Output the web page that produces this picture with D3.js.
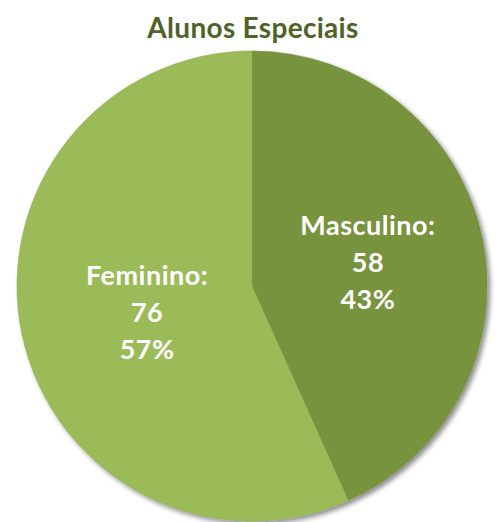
<!DOCTYPE html>
<html>
<head>
<meta charset="utf-8">
<script src="https://cdn.jsdelivr.net/npm/d3@7"></script>
<style>
  html, body { margin: 0; padding: 0; background: #fff; }
</style>
</head>
<body>
<div id="chart"></div>
<script>
const categories = ["Masculino", "Feminino"];
const values = [58, 76];
const colors = ["#77933c", "#9bbb59"];
const title = "Alunos Especiais";

const width = 498, height = 522;
const cx = 252, cy = 286, radius = 235;
const font = "Lato, 'Open Sans', sans-serif";

const data = categories.map((c, i) => ({cat: c, val: values[i]}));
const total = d3.sum(values);

const svg = d3.select('#chart').append('svg')
  .attr('width', width)
  .attr('height', height);

// soft shadow under the pie, like the spreadsheet chart
const defs = svg.append('defs');
const f = defs.append('filter').attr('id', 'shadow')
  .attr('x', '-10%').attr('y', '-10%').attr('width', '120%').attr('height', '120%');
f.append('feGaussianBlur').attr('in', 'SourceAlpha').attr('stdDeviation', 2.5);
f.append('feOffset').attr('dx', 3).attr('dy', 3).attr('result', 'off');
f.append('feComponentTransfer').append('feFuncA').attr('type', 'linear').attr('slope', 0.45);
const m = f.append('feMerge');
m.append('feMergeNode');
m.append('feMergeNode').attr('in', 'SourceGraphic');

svg.append('text')
  .attr('x', cx + 1)
  .attr('y', 38)
  .attr('text-anchor', 'middle')
  .style('font-family', font)
  .style('font-weight', 'bold')
  .style('font-size', '28px')
  .style('letter-spacing', '0.3px')
  .style('fill', '#4f6228')
  .text(title);

const pie = d3.pie().value(d => d.val).sort(null);
const arcs = pie(data);
const arc = d3.arc().innerRadius(0).outerRadius(radius);
const labelArc = d3.arc().innerRadius(radius * 0.5).outerRadius(radius * 0.5);

const chart = svg.append('g')
  .attr('transform', `translate(${cx},${cy})`);

chart.append('g').attr('filter', 'url(#shadow)')
  .selectAll('path')
  .data(arcs).enter().append('path')
  .attr('d', arc)
  .style('fill', (d, i) => colors[i])
  .style('stroke', (d, i) => d3.color(colors[i]).darker(0.2))
  .style('stroke-width', 0.6);

const labels = chart.selectAll('.label')
  .data(arcs).enter().append('text')
  .attr('class', 'label')
  .attr('text-anchor', 'middle')
  .attr('transform', (d, i) => {
    const c = labelArc.centroid(d);
    const dx = i === 0 ? 1 : 10;
    const dy = i === 0 ? 2 : 2;
    return `translate(${c[0] + dx},${c[1] + dy})`;
  })
  .style('font-family', font)
  .style('font-weight', 'bold')
  .style('font-size', '27px')
  .style('letter-spacing', '0.5px')
  .style('fill', '#fff');

labels.each(function(d) {
  const t = d3.select(this);
  const pct = Math.round(d.data.val / total * 100) + '%';
  [d.data.cat + ':', d.data.val, pct].forEach((s, k) => {
    t.append('tspan')
      .attr('x', 0)
      .attr('y', (k - 1) * 37 + 9)
      .text(s);
  });
});
</script>
</body>
</html>
